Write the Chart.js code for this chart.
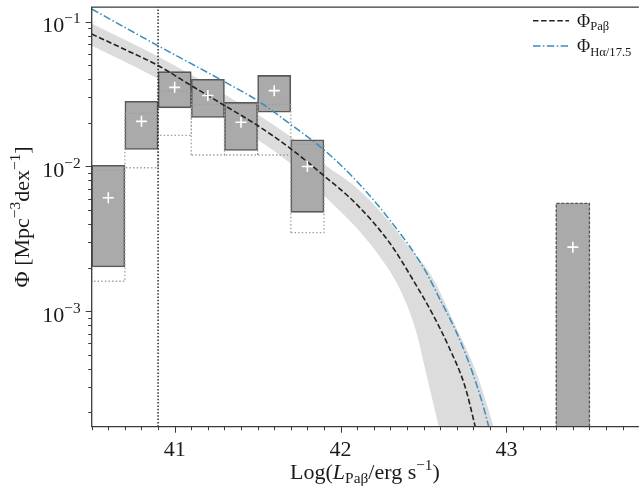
<!DOCTYPE html>
<html><head><meta charset="utf-8">
<script src="https://cdn.jsdelivr.net/npm/chart.js@4.4.0/dist/chart.umd.min.js"></script>
<style>html,body{margin:0;padding:0;background:#fff;}canvas{display:block;}</style>
</head><body>
<canvas id="c" width="644" height="489"></canvas>
<script>
// ---- data ----
const binCenters = [40.6, 40.8, 41.0, 41.2, 41.4, 41.6, 41.8, 43.4];
const binWidth = 0.2;
const boxHigh = [1.02e-2, 2.82e-2, 4.52e-2, 4.0e-2, 2.77e-2, 4.26e-2, 1.53e-2, 5.56e-3];
const boxLow  = [2.02e-3, 1.31e-2, 2.54e-2, 2.18e-2, 1.29e-2, 2.37e-2, 4.82e-3, 1.0e-4];
const phiValues = [6.08e-3, 2.05e-2, 3.52e-2, 3.09e-2, 2.02e-2, 3.34e-2, 1.0e-2, 2.77e-3];
const rawHigh = [9.4e-3, 2.33e-2, 3.31e-2, 2.68e-2, 2.7e-2, 2.68e-2, 1.42e-2];
const rawLow  = [1.61e-3, 9.8e-3, 1.64e-2, 1.20e-2, 1.20e-2, 1.20e-2, 3.49e-3];
const limitLum = 40.9;

const paBLum = [40.5, 40.7, 40.9, 41.1, 41.3, 41.5, 41.7, 41.9, 42.1, 42.3, 42.45, 42.55, 42.65, 42.75, 42.81, 42.82];
const paBPhi = [0.0822, 0.0643, 0.0498, 0.0362, 0.0264, 0.0192, 0.01324, 0.00863, 0.00543, 0.00292, 0.00155, 0.000977, 0.000575, 0.000302, 0.000162, 0.000145];

const haLum = [40.5, 40.9, 41.1, 41.3, 41.5, 41.7, 41.9, 42.1, 42.3, 42.5, 42.6, 42.7, 42.8, 42.89, 42.9];
const haPhi = [0.1225, 0.0682, 0.0513, 0.0385, 0.0285, 0.0195, 0.01303, 0.00785, 0.00422, 0.00200, 0.00120, 0.000708, 0.000363, 0.000164, 0.000145];

const bandUpLum = [40.5, 40.9, 41.3, 41.7, 41.9, 42.1, 42.3, 42.4, 42.55, 42.7, 42.81, 42.92, 42.95];
const bandUpPhi = [0.0973, 0.0574, 0.0316, 0.01603, 0.01035, 0.00708, 0.00407, 0.00288, 0.00174, 0.000759, 0.000398, 0.000162, 0.00012];
const bandLoLum = [40.5, 40.9, 41.3, 41.7, 41.9, 42.1, 42.28, 42.36, 42.45, 42.53, 42.59, 42.62, 42.8, 42.95];
const bandLoPhi = [0.0682, 0.0403, 0.0214, 0.01047, 0.00631, 0.00372, 0.00202, 0.00140, 0.000759, 0.000316, 0.000162, 0.000112, 0.00003, 0.00001];

const xRange = [40.5, 43.786];
const yRange = [1.592e-4, 0.1262];
const xMajorTicks = [41, 42, 43];
const yMajorTicks = [1e-3, 1e-2, 1e-1];
const yTickLabels = ['10', '10', '10'];
const yTickExps = ['\u22123', '\u22122', '\u22121'];
const legendLabels = [['\u03A6', 'Pa\u03B2'], ['\u03A6', 'H\u03B1/17.5']];

// ---- build chart data ----
const pts = (xs, ys) => xs.map((x, i) => ({x, y: ys[i]}));
const rawBoxPts = [];
for (let i = 0; i < rawHigh.length; i++) {
  const l = binCenters[i] - binWidth / 2, r = binCenters[i] + binWidth / 2;
  rawBoxPts.push({x: l, y: rawLow[i]}, {x: l, y: rawHigh[i]}, {x: r, y: rawHigh[i]},
                 {x: r, y: rawLow[i]}, {x: l, y: rawLow[i]}, {x: r, y: null});
}
const lastIdx = binCenters.length - 1;
const lastL = binCenters[lastIdx] - binWidth / 2, lastR = binCenters[lastIdx] + binWidth / 2;
const lastBoxPts = [{x: lastL, y: boxLow[lastIdx]}, {x: lastL, y: boxHigh[lastIdx]},
                    {x: lastR, y: boxHigh[lastIdx]}, {x: lastR, y: boxLow[lastIdx]}];

const SERIF = '"Liberation Serif", "Times New Roman", serif';
const f = (s, it) => (it ? 'italic ' : '') + s + 'px ' + SERIF;

function richWidth(ctx, parts) {
  let w = 0;
  for (const p of parts) { ctx.font = p.font; w += ctx.measureText(p.t).width; }
  return w;
}
function drawRich(ctx, parts, x, y) {
  let cx = x;
  for (const p of parts) {
    ctx.font = p.font;
    ctx.fillText(p.t, cx, y + (p.dy || 0));
    cx += ctx.measureText(p.t).width;
  }
}

const decor = {
  id: 'decor',
  afterDatasetsDraw(chart) {
    const {ctx, chartArea: a, scales: {x, y}} = chart;
    ctx.save();
    ctx.strokeStyle = '#3a3a3a';
    ctx.lineWidth = 1.3;
    ctx.beginPath();
    ctx.moveTo(a.right + 2, a.top); ctx.lineTo(a.left, a.top);
    ctx.lineTo(a.left, a.bottom); ctx.lineTo(a.right + 2, a.bottom);
    ctx.stroke();
    // x ticks (minor every 0.1)
    ctx.lineWidth = 1;
    ctx.beginPath();
    for (let k = Math.ceil(xRange[0] * 10); k <= Math.floor(xRange[1] * 10); k++) {
      const px = Math.round(x.getPixelForValue(k / 10)) + 0.5;
      const len = (k % 10 === 0) ? 6 : 3.5;
      ctx.moveTo(px, a.bottom); ctx.lineTo(px, a.bottom + len);
    }
    // y ticks
    for (let d = -4; d <= -1; d++) {
      for (let m = 1; m <= 9; m++) {
        const v = m * Math.pow(10, d);
        if (v < yRange[0] || v > yRange[1]) continue;
        const py = Math.round(y.getPixelForValue(v)) + 0.5;
        const len = m === 1 ? 6 : 3.5;
        ctx.moveTo(a.left, py); ctx.lineTo(a.left - len, py);
      }
    }
    ctx.stroke();
    ctx.restore();
  },
  afterDraw(chart) {
    const {ctx, chartArea: a, scales: {x, y}} = chart;
    ctx.save();
    ctx.fillStyle = '#1a1a1a';
    ctx.textBaseline = 'alphabetic';
    // x tick labels
    ctx.textAlign = 'center';
    ctx.font = f(22);
    xMajorTicks.forEach(v => ctx.fillText(String(v), x.getPixelForValue(v), a.bottom + 29));
    // y tick labels
    ctx.textAlign = 'left';
    yMajorTicks.forEach((v, i) => {
      const py = y.getPixelForValue(v);
      const parts = [{t: yTickLabels[i], font: f(22)}, {t: yTickExps[i], font: f(15.4), dy: -9}];
      const w = richWidth(ctx, parts);
      drawRich(ctx, parts, a.left - 11 - w, py + 10.5);
    });
    // x title
    const xt = [{t: 'Log(', font: f(22)}, {t: 'L', font: f(22, true)}, {t: 'Pa\u03B2', font: f(15.4), dy: 4},
                {t: '/erg s', font: f(22)}, {t: '\u22121', font: f(15.4), dy: -9}, {t: ')', font: f(22)}];
    const xw = richWidth(ctx, xt);
    drawRich(ctx, xt, 365 - xw / 2, a.bottom + 52);
    // y title (rotated)
    const yt = [{t: '\u03A6 [Mpc', font: f(22)}, {t: '\u22123', font: f(15.4), dy: -9},
                {t: 'dex', font: f(22)}, {t: '\u22121', font: f(15.4), dy: -9}, {t: ']', font: f(22)}];
    const yw = richWidth(ctx, yt);
    ctx.save();
    ctx.translate(29, (a.top + a.bottom) / 2);
    ctx.rotate(-Math.PI / 2);
    drawRich(ctx, yt, -yw / 2, 0);
    ctx.restore();
    // legend
    const rows = [{color: '#222', dash: [5.5, 2.6], y: 20.7}, {color: '#3a8dbd', dash: [7.5, 2.4, 1.5, 2.4], y: 46}];
    rows.forEach((r, i) => {
      ctx.save();
      ctx.strokeStyle = r.color; ctx.lineWidth = 1.5; ctx.setLineDash(r.dash);
      ctx.beginPath(); ctx.moveTo(533, r.y); ctx.lineTo(569, r.y); ctx.stroke();
      ctx.restore();
      drawRich(ctx, [{t: legendLabels[i][0], font: f(18)}, {t: legendLabels[i][1], font: f(12.6), dy: 3.5}], 577, r.y + 6);
    });
    ctx.restore();
  }
};

new Chart(document.getElementById('c'), {
  type: 'line',
  data: {
    datasets: [
      {type: 'line', data: pts(bandUpLum, bandUpPhi), borderWidth: 0, pointRadius: 0, fill: '+1',
       backgroundColor: '#dcdcdc', order: 10, clip: 0, cubicInterpolationMode: 'monotone'},
      {type: 'line', data: pts(bandLoLum, bandLoPhi), borderWidth: 0, pointRadius: 0, fill: false,
       order: 10, clip: 0, cubicInterpolationMode: 'monotone'},
      {type: 'bar', data: binCenters.map((c, i) => ({x: c, y: [boxLow[i], boxHigh[i]]})),
       backgroundColor: '#aaaaaa', borderColor: '#585858',
       borderWidth: ctx => ctx.dataIndex === lastIdx ? 0 : 1.6, borderSkipped: false,
       categoryPercentage: 1, barPercentage: 1, grouped: false, order: 8, clip: 0},
      {type: 'line', data: rawBoxPts, borderColor: '#9c9c9c', borderWidth: 1.3, borderDash: [1.4, 2.2],
       pointRadius: 0, spanGaps: false, fill: false, order: 7, clip: 0},
      {type: 'line', data: lastBoxPts, borderColor: '#555555', borderWidth: 1.3, borderDash: [3, 1.6],
       pointRadius: 0, fill: false, order: 7, clip: 0},
      {type: 'line', data: [{x: limitLum, y: yRange[0]}, {x: limitLum, y: yRange[1]}],
       borderColor: '#1a1a1a', borderWidth: 1.4, borderDash: [1.5, 1.8], pointRadius: 0, fill: false, order: 6, clip: 0},
      {type: 'line', data: pts(paBLum, paBPhi), borderColor: '#222222', borderWidth: 1.6, borderDash: [5.5, 2.6],
       pointRadius: 0, fill: false, order: 5, clip: 0, cubicInterpolationMode: 'monotone'},
      {type: 'line', data: pts(haLum, haPhi), borderColor: '#3a8dbd', borderWidth: 1.5, borderDash: [7.5, 2.4, 1.5, 2.4],
       pointRadius: 0, fill: false, order: 5, clip: 0, cubicInterpolationMode: 'monotone'},
      {type: 'scatter', data: pts(binCenters, phiValues), pointStyle: 'cross', pointRadius: 5.5,
       borderColor: '#ffffff', backgroundColor: '#ffffff', pointBorderWidth: 1.6, borderWidth: 1.6, showLine: false, order: 1}
    ]
  },
  options: {
    responsive: false, animation: false, devicePixelRatio: 1,
    layout: {padding: {left: 91.7, right: 0, top: 6.3, bottom: 62.3}},
    plugins: {legend: {display: false}, tooltip: {enabled: false}},
    scales: {
      x: {type: 'linear', min: xRange[0], max: xRange[1], offset: false, display: false},
      y: {type: 'logarithmic', min: yRange[0], max: yRange[1], display: false}
    }
  },
  plugins: [decor]
});
</script>
</body></html>
